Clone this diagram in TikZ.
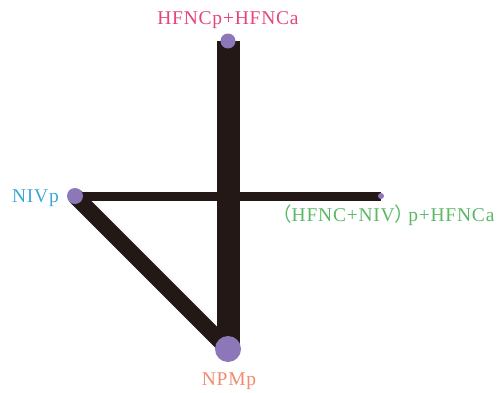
\documentclass[tikz,border=0pt]{standalone}
\usepackage{fontspec}
\setmainfont{Liberation Serif}
\newfontfamily\cjkfont{Noto Sans CJK SC}
\definecolor{edgec}{HTML}{231815}
\definecolor{nodec}{HTML}{8C78B8}
\definecolor{pinkc}{HTML}{E5457F}
\definecolor{bluec}{HTML}{3AA8D8}
\definecolor{greenc}{HTML}{5BB867}
\definecolor{salmonc}{HTML}{F28B6E}
\begin{document}
\begin{tikzpicture}[x=1pt,y=1pt,
  dot/.style={circle,fill=nodec,inner sep=0pt},
  edge/.style={draw=edgec,line cap=butt},
  lab/.style={font=\fontsize{19.5}{21}\selectfont\addfontfeature{LetterSpace=4},inner sep=0pt}]
\useasboundingbox (0,0) rectangle (500,392);
\coordinate (T) at (228,351);
\coordinate (L) at (75,196);
\coordinate (R) at (381,196);
\coordinate (B) at (228,43);
\draw[edge,line width=23pt] (T) -- (B);
\draw[edge,line width=9pt] (L) -- (R);
\draw[edge,line width=16pt] (L) -- (B);
\node[dot,minimum size=15pt] (nT) at (T) {};
\node[dot,minimum size=16pt] (nL) at (L) {};
\node[dot,minimum size=6pt] (nR) at (R) {};
\node[dot,minimum size=26pt] (nB) at (B) {};
\node[lab,text=pinkc] (lT) at (228,372) {HFNCp+HFNCa};
\node[lab,text=bluec,anchor=east] (lL) at (59,194) {NIVp};
\node[lab,text=greenc,anchor=west] (lR) at (283,177) {\kern-11pt{\cjkfont （}\kern0pt HFNC+NIV{\cjkfont ）}\kern-6pt p+HFNCa};
\node[lab,text=salmonc] (lB) at (229,11) {NPMp};
\end{tikzpicture}
\end{document}
